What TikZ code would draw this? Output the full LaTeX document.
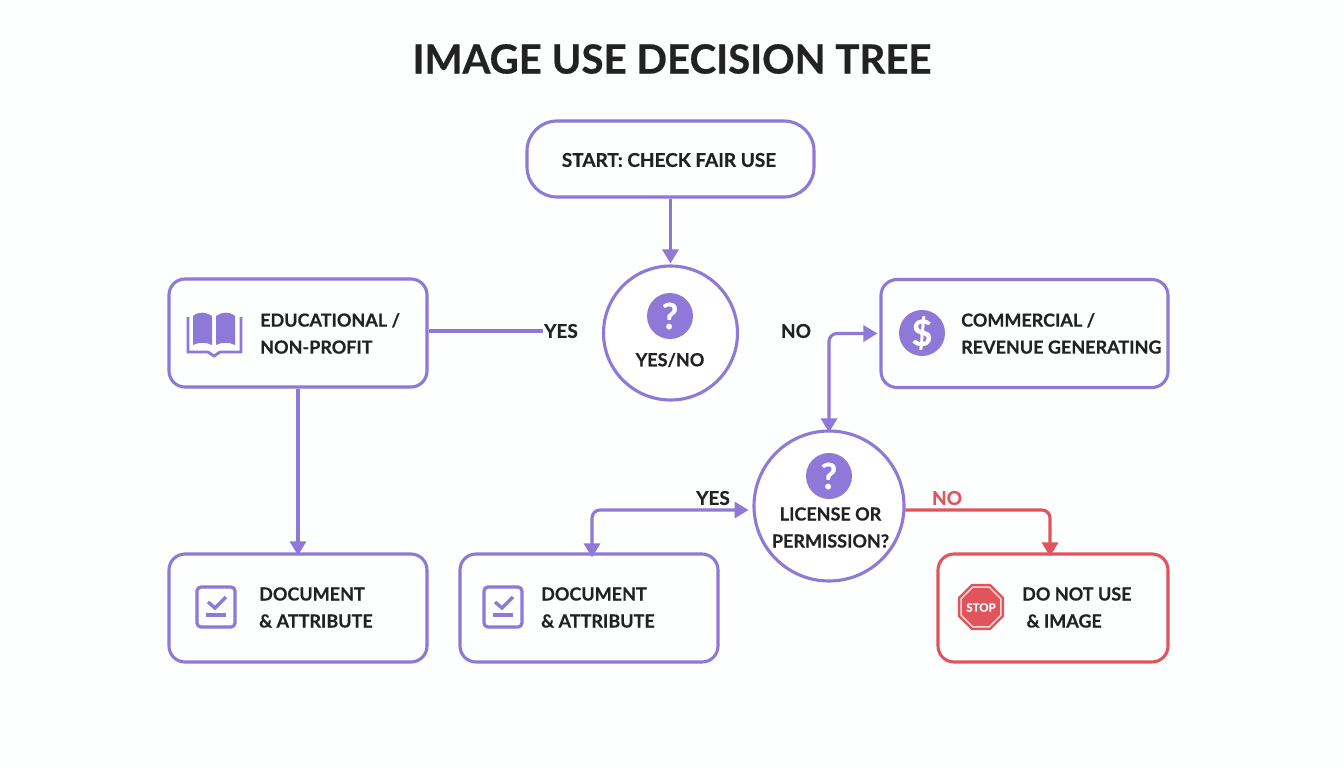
\documentclass[tikz,border=0pt]{standalone}
\usepackage{fontspec}
\setmainfont{Lato}[BoldFeatures={FakeBold=0.5}]
\usetikzlibrary{arrows.meta,positioning,shapes.geometric}
\definecolor{purp}{HTML}{8E78D8}
\definecolor{stopred}{HTML}{E2545C}
\definecolor{ink}{HTML}{222222}
\definecolor{paper}{HTML}{FDFEFE}
\tikzset{
    %Define standard arrow tip
    >={Triangle[length=14pt,width=16pt]},
    %Define style for boxes
    box/.style={
           rectangle,
           rounded corners=16pt,
           draw=purp, line width=3.1pt,
           minimum width=258pt,
           minimum height=108pt},
    stopbox/.style={
           box,
           draw=stopred,
           minimum width=230pt},
    ask/.style={
           circle,
           draw=purp, line width=3.1pt,
           fill=white},
    lbl/.style={
           text=ink,
           font=\fontsize{19}{27}\selectfont\bfseries,
           inner sep=0pt,
           align=left},
    lblsm/.style={
           lbl,
           font=\fontsize{18}{27}\selectfont\bfseries},
    badge/.style={
           circle,
           fill=purp,
           text=white,
           minimum size=46pt,
           inner sep=0pt,
           font=\fontsize{36}{36}\selectfont\bfseries},
    % Define arrow style
    pil/.style={
           ->,
           draw=purp,
           line width=3.1pt,
           shorten >=1pt,
           rounded corners=8pt},
    pilred/.style={
           pil,
           draw=stopred,
           fill=none},
    checkicon/.pic={
           \draw[purp,line width=3.2pt,rounded corners=4pt] (-19,-20) rectangle (19,20);
           \draw[purp,line width=3.4pt] (-8,-5) -- (-1,1) -- (10,-10);
           \draw[purp,line width=3.2pt] (-10,8) -- (10,8);
           }
}
\begin{document}
\begin{tikzpicture}[x=1pt,y=-1pt]
\useasboundingbox[fill=paper] (0,0) rectangle (1344,768);
\node[text=ink,font=\fontsize{40.2}{40}\selectfont\bfseries,inner sep=0pt](title) at (672,59){IMAGE USE DECISION TREE};
%boxes
\node[box,minimum width=287pt,minimum height=76pt,rounded corners=30pt](start) at (670.5,159){};
\node[box](edu) at (298,333){};
\node[box,minimum width=287pt](comm) at (1024.5,333.5){};
\node[box](docl) at (298,608){};
\node[box](docr) at (589,608){};
\node[stopbox](dont) at (1053,608){};
\node[ask,minimum size=134pt](yesno) at (670.5,333){};
\node[ask,minimum size=150pt](lic) at (829,506){};
%texts
\node[lbl](starttxt) at (669,160){START: CHECK FAIR USE};
\node[lblsm,anchor=west](edutxt) at (260,333.5){EDUCATIONAL /\\NON-PROFIT};
\node[lblsm,anchor=west](commtxt) at (961,333.5){COMMERCIAL /\\REVENUE GENERATING};
\node[lblsm,anchor=west](docltxt) at (259,607.5){DOCUMENT\\\& ATTRIBUTE};
\node[lblsm,anchor=west](docrtxt) at (541,607.5){DOCUMENT\\\& ATTRIBUTE};
\node[lblsm,anchor=west](donttxt) at (1022,607.5){DO NOT USE\\\ \& IMAGE};
\node[lblsm](yesnotxt) at (670,360){YES/NO};
\node[lblsm,align=center](lictxt) at (830.5,527.5){LICENSE OR\\PERMISSION?};
\node[lbl](yesa) at (561,331){YES};
\node[lbl](noa) at (796,331){NO};
\node[lbl](yesb) at (713,498){YES};
\node[lbl,text=stopred](nob) at (947,498){NO};
%icons
\node[badge](qa) at (670,316){?};
\node[badge](qb) at (829,476){?};
\node[badge](dollar) at (922,333){\$};
\fill[purp] (193,316) .. controls (199,311) and (206,312) .. (212,316) -- (212,345) .. controls (206,342) and (199,342) .. (193,345) -- cycle;
\fill[purp] (216,316) .. controls (222,312) and (229,311) .. (235,316) -- (235,345) .. controls (229,342) and (222,342) .. (216,345) -- cycle;
\draw[purp,line width=2.8pt] (188,317) -- (188,352) -- (208,352) -- (214,356) -- (220,352) -- (241,352) -- (241,317);
\pic at (216,607) {checkicon};
\pic at (503,607) {checkicon};
\node[regular polygon,regular polygon sides=8,fill=stopred,minimum size=50pt,inner sep=0pt](octo) at (981,607){};
\node[regular polygon,regular polygon sides=8,draw=white!80!stopred,line width=1.5pt,minimum size=43pt,inner sep=0pt](octoring) at (981,607){};
\node[text=white,font=\fontsize{11.5}{12}\selectfont\bfseries,inner sep=0pt](octotxt) at (981,607.5){STOP};
%connectors
\draw[pil] (start.south) -- (yesno.north);
\draw[pil,-] (edu.east |- yesa.west) -- (yesa.west);
\draw[pil] (edu.south) -- ([yshift=-4pt]docl.north);
\draw[pil,<->] ([xshift=-2pt]comm.west) -| ([yshift=-4pt]lic.north);
\draw[pil,<->] ([xshift=3pt,yshift=-5pt]docr.north) |- ([xshift=-3pt]lic.183);
\draw[pilred] (lic.357) -| ([xshift=-3pt,yshift=-5pt]dont.north);
\end{tikzpicture}
\end{document}
